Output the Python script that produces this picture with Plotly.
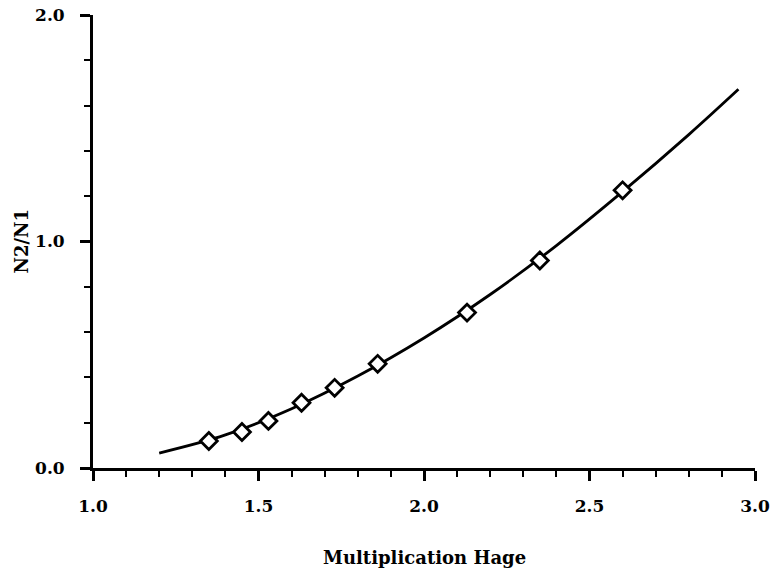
import plotly.graph_objects as go

# Measured data points
point_x = [1.35, 1.45, 1.53, 1.63, 1.73, 1.86, 2.13, 2.35, 2.60]
point_y = [0.119, 0.159, 0.208, 0.288, 0.354, 0.460, 0.686, 0.916, 1.226]

# Fitted curve
curve_x = [1.20, 1.40, 1.60, 1.80, 2.00, 2.20, 2.40, 2.60, 2.80, 2.95]
curve_y = [0.066, 0.146, 0.262, 0.406, 0.574, 0.766, 0.982, 1.220, 1.472, 1.672]

x_ticks = [1.0, 1.5, 2.0, 2.5, 3.0]
x_labels = ["1.0", "1.5", "2.0", "2.5", "3.0"]
y_ticks = [0.0, 1.0, 2.0]
y_labels = ["0.0", "1.0", "2.0"]
x_title = "Multiplication Hage"
y_title = "N2/N1"

font_family = "DejaVu Serif"

fig = go.Figure()
fig.add_trace(go.Scatter(x=curve_x, y=curve_y, mode="lines",
                         line=dict(color="black", width=2.8, shape="spline", smoothing=1.0),
                         showlegend=False, hoverinfo="skip"))
fig.add_trace(go.Scatter(x=point_x, y=point_y, mode="markers",
                         marker=dict(symbol="diamond", size=13, color="white",
                                     line=dict(color="black", width=2.8)),
                         showlegend=False))

fig.update_layout(
    width=771, height=571,
    margin=dict(l=93, r=16, t=15, b=103),
    paper_bgcolor="white", plot_bgcolor="white",
    font=dict(family=font_family, color="black", size=16),
    xaxis=dict(
        range=[1.0, 3.0], tickvals=x_ticks, ticktext=["<b>%s</b>" % t for t in x_labels],
        showgrid=False, zeroline=False, showline=True, linecolor="black", linewidth=2.8,
        ticks="outside", ticklen=10, tickwidth=2.5, tickcolor="black",
        tickfont=dict(family=font_family, size=17), ticklabelstandoff=11,
        minor=dict(dtick=0.1, ticks="outside", ticklen=6, tickwidth=2, tickcolor="black", showgrid=False),
        automargin=False,
    ),
    yaxis=dict(
        range=[0.0, 2.0], tickvals=y_ticks, ticktext=["<b>%s</b>" % t for t in y_labels],
        showgrid=False, zeroline=False, showline=True, linecolor="black", linewidth=2.8,
        ticks="outside", ticklen=10, tickwidth=2.5, tickcolor="black",
        tickfont=dict(family=font_family, size=17), ticklabelstandoff=12,
        minor=dict(dtick=0.2, ticks="outside", ticklen=6, tickwidth=2, tickcolor="black", showgrid=False),
        automargin=False,
    ),
    annotations=[
        dict(text="<b>%s</b>" % x_title, xref="paper", yref="paper", x=0.5, y=0,
             xanchor="center", yanchor="middle", yshift=-89, showarrow=False,
             font=dict(family=font_family, size=18)),
        dict(text="<b>%s</b>" % y_title, xref="paper", yref="paper", x=0, y=0.5,
             xanchor="center", yanchor="middle", xshift=-72, textangle=-90, showarrow=False,
             font=dict(family=font_family, size=18)),
    ],
)

fig.write_html("out.html")
